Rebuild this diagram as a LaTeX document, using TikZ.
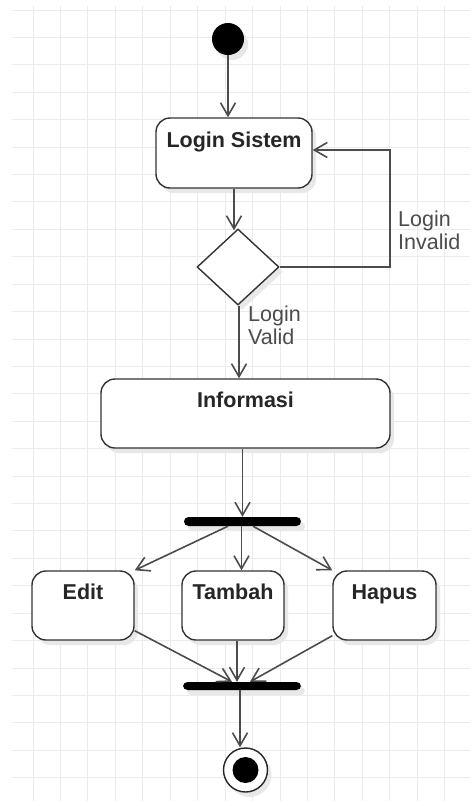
\documentclass[tikz,border=0pt]{standalone}
\usepackage{fontspec}
\setmainfont{Liberation Sans}
\usetikzlibrary{arrows.meta,shapes.geometric,shadows,calc}
\begin{document}
\begin{tikzpicture}[x=1pt,y=-1pt,
  shadowed/.style={drop shadow={shadow xshift=4pt,shadow yshift=-5pt,fill=black!9,opacity=1}},
  act/.style={draw=black!80,line width=1.4pt,fill=white,rounded corners=14pt,shadowed,inner sep=0pt},
  acttext/.style={font=\fontsize{21.5}{24}\selectfont\bfseries,text=black!85,inner sep=0pt},
  bar/.style={fill=black,rounded corners=4.5pt,inner sep=0pt,shadowed},
  arr/.style={draw=black!70,line width=1.6pt,-{Straight Barb[length=13pt,width=15pt,line width=1.6pt]}},
  lbl/.style={font=\fontsize{21.5}{22.5}\selectfont,text=black!70,align=left,inner sep=0pt},
  gridline/.style={draw=black!8,line width=1pt}]
\useasboundingbox (0,0) rectangle (470,801);
\fill[white] (0,0) rectangle (470,801);
% grid
\foreach \i in {0,...,15} \draw[gridline] ({33+27.45*\i},6) -- ({33+27.45*\i},801);
\foreach \j in {0,...,28} \draw[gridline] (12,{10+27.42*\j}) -- (470,{10+27.42*\j});

% nodes
\node[circle,fill=black,minimum size=32pt,inner sep=0pt,shadowed] (start) at (228,39) {};
\node[act,minimum width=156pt,minimum height=70pt,
  label={[acttext,anchor=base,yshift=-30pt]north:Login Sistem}] (login) at (234,153) {};
\node[diamond,draw=black!80,line width=1.4pt,fill=white,minimum width=82pt,minimum height=76pt,inner sep=0pt,shadowed] (dec) at (238,267) {};
\node[act,minimum width=289pt,minimum height=69pt,
  label={[acttext,anchor=base,yshift=-29.5pt]north:Informasi}] (info) at (245.5,413.5) {};
\node[bar,minimum width=117pt,minimum height=9pt] (fork) at (242.5,521.5) {};
\node[act,minimum width=102pt,minimum height=69pt,
  label={[acttext,anchor=base,yshift=-29.5pt]north:Edit}] (edit) at (83,605.5) {};
\node[act,minimum width=102pt,minimum height=69pt,
  label={[acttext,anchor=base,yshift=-29.5pt]north:Tambah}] (tambah) at (233,605.5) {};
\node[act,minimum width=103pt,minimum height=69pt,
  label={[acttext,anchor=base,yshift=-29.5pt]north:Hapus}] (hapus) at (384.5,605.5) {};
\node[bar,minimum width=118pt,minimum height=8pt] (join) at (242,686) {};
\node[circle,draw=black!85,line width=1.4pt,fill=white,minimum size=44pt,inner sep=0pt,shadowed,
  path picture={\fill[black] (path picture bounding box.center) circle[radius=13pt];}] (end) at (245.5,770) {};

% labels
\node[lbl,anchor=base west] (linv) at (398,249) {Login\\Invalid};
\node[lbl,anchor=base west] (lval) at (248,344) {Login\\Valid};

% connectors
\draw[arr] (start) -- (start |- login.north);
\draw[arr] (login.south) -- ($(login.south |- dec.north)+(0,2)$);
\draw[arr] (dec.east) -| ([xshift=77pt,yshift=3pt]login.east) -- ([yshift=3pt]login.east);
\draw[arr] ([xshift=1pt]dec.south) -- ([xshift=1pt]dec.south |- info.north);
\draw[arr] (fork.north |- info.south) -- (fork.north);
\draw[arr] ([xshift=-14.5pt]fork.south) -- (edit.north east);
\draw[arr] ([xshift=-1pt]fork.south) -- ([xshift=-1pt]fork.south |- tambah.north);
\draw[arr] ([xshift=10.5pt]fork.south) -- (hapus.north west);
\draw[arr] ([yshift=10pt]edit.south east) -- ([xshift=-10pt]join.north);
\draw[arr] ([xshift=4pt]tambah.south) -- ([xshift=4pt]tambah.south |- join.north);
\draw[arr] ([yshift=5pt]hapus.south west) -- ([xshift=8pt]join.north);
\draw[arr] ([xshift=-2pt]join.south) -- ([xshift=-2pt]join.south |- end.north);
\end{tikzpicture}
\end{document}
